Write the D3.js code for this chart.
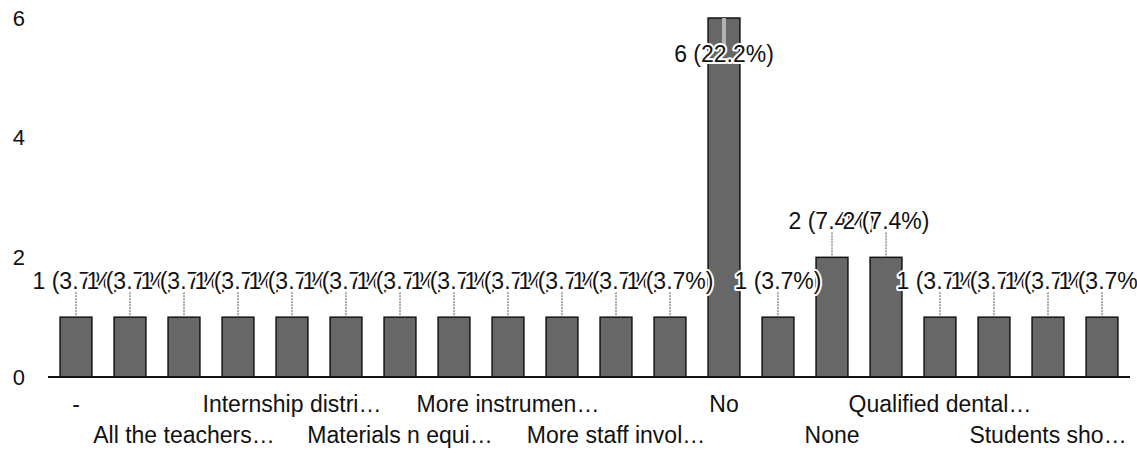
<!DOCTYPE html>
<html>
<head>
<meta charset="utf-8">
<script src="https://cdn.jsdelivr.net/npm/d3@7"></script>
<style>
  html, body { margin: 0; padding: 0; background: #fff; }
  svg { display: block; font-family: "Liberation Sans", Arial, sans-serif; }
</style>
</head>
<body>
<svg id="chart" width="1137" height="453"></svg>
<script>
// Responses (axis labels as shown, long answers truncated)
const categories = [
  "-", "Add more clinical…", "All the teachers…", "Better infrastruc…",
  "Internship distri…", "Less theory", "Materials n equi…", "More hands-on…",
  "More instrumen…", "More practicals", "More staff invol…", "Nil",
  "No", "No suggestions", "None", "Nothing",
  "Qualified dental…", "Regular seminars", "Students sho…", "Timely evaluation"
];
// Number of responses per answer
const counts = [1, 1, 1, 1, 1, 1, 1, 1, 1, 1, 1, 1, 6, 1, 2, 2, 1, 1, 1, 1];
// Value axis ticks
const yTicks = [0, 2, 4, 6];

const total = d3.sum(counts);
const data = categories.map((c, i) => ({ cat: c, value: counts[i], idx: i }));

const svg = d3.select("#chart");
const plotLeft = 49, plotRight = 1129, plotTop = 18, plotBottom = 377;

const x = d3.scaleBand().domain(categories).range([plotLeft, plotRight])
  .paddingInner(0.41).paddingOuter(0.205);
const y = d3.scaleLinear().domain([0, 6]).range([plotBottom, plotTop]);

const labelFont = 23;

// Bars
svg.append("g").selectAll("rect").data(data).join("rect")
  .attr("x", d => x(d.cat))
  .attr("y", d => y(d.value))
  .attr("width", x.bandwidth())
  .attr("height", d => y(0) - y(d.value))
  .attr("fill", "#676767")
  .attr("stroke", "#151515")
  .attr("stroke-width", 1.5);

// Value axis
const yAxis = svg.append("g")
  .attr("transform", "translate(33,0)")
  .call(d3.axisLeft(y).tickValues(yTicks).tickFormat(d3.format("d")).tickSize(0).tickPadding(8));
yAxis.select(".domain").remove();
yAxis.selectAll("text")
  .attr("font-size", 22).attr("fill", "#111")
  .attr("font-family", "'Liberation Sans', Arial, sans-serif");

// Category axis: every second answer, alternating rows
const shown = categories.filter((d, i) => i % 2 === 0);
const xAxis = svg.append("g")
  .attr("transform", `translate(0,${plotBottom})`)
  .call(d3.axisBottom(x).tickValues(shown).tickSize(0).tickSizeOuter(0));
xAxis.select(".domain").attr("stroke", "#111").attr("stroke-width", 2)
  .attr("d", `M${plotLeft - 1},0H${plotRight + 1}`);
xAxis.selectAll(".tick text")
  .attr("font-size", 23).attr("fill", "#111")
  .attr("font-family", "'Liberation Sans', Arial, sans-serif")
  .attr("dy", null)
  .attr("y", d => (categories.indexOf(d) / 2) % 2 === 0 ? 35 : 66);

// Value annotations with stems
const fmtPct = v => (v / total * 100).toFixed(1) + "%";
const ann = svg.append("g");
data.forEach(d => {
  const cx = x(d.cat) + x.bandwidth() / 2;
  const barTop = y(d.value);
  const outside = barTop - 28 - labelFont * 0.75 >= 0;
  const baseline = outside ? barTop - 28 : barTop + 44;
  if (outside) {
    ann.append("line")
      .attr("x1", cx).attr("x2", cx)
      .attr("y1", baseline + 3).attr("y2", barTop)
      .attr("stroke", "#555").attr("stroke-width", 1)
      .attr("stroke-dasharray", "2,1");
  } else {
    ann.append("line")
      .attr("x1", cx).attr("x2", cx)
      .attr("y1", barTop).attr("y2", baseline - 17)
      .attr("stroke", "#fff").attr("stroke-width", 3);
    ann.append("line")
      .attr("x1", cx).attr("x2", cx)
      .attr("y1", barTop).attr("y2", baseline - 17)
      .attr("stroke", "#666").attr("stroke-width", 1);
  }
  ann.append("text")
    .attr("x", cx).attr("y", baseline)
    .attr("text-anchor", "middle")
    .attr("font-size", labelFont)
    .attr("fill", "#111")
    .attr("stroke", "#fff").attr("stroke-width", 4)
    .attr("stroke-linejoin", "round")
    .attr("paint-order", "stroke")
    .text(`${d.value} (${fmtPct(d.value)})`);
});
</script>
</body>
</html>
